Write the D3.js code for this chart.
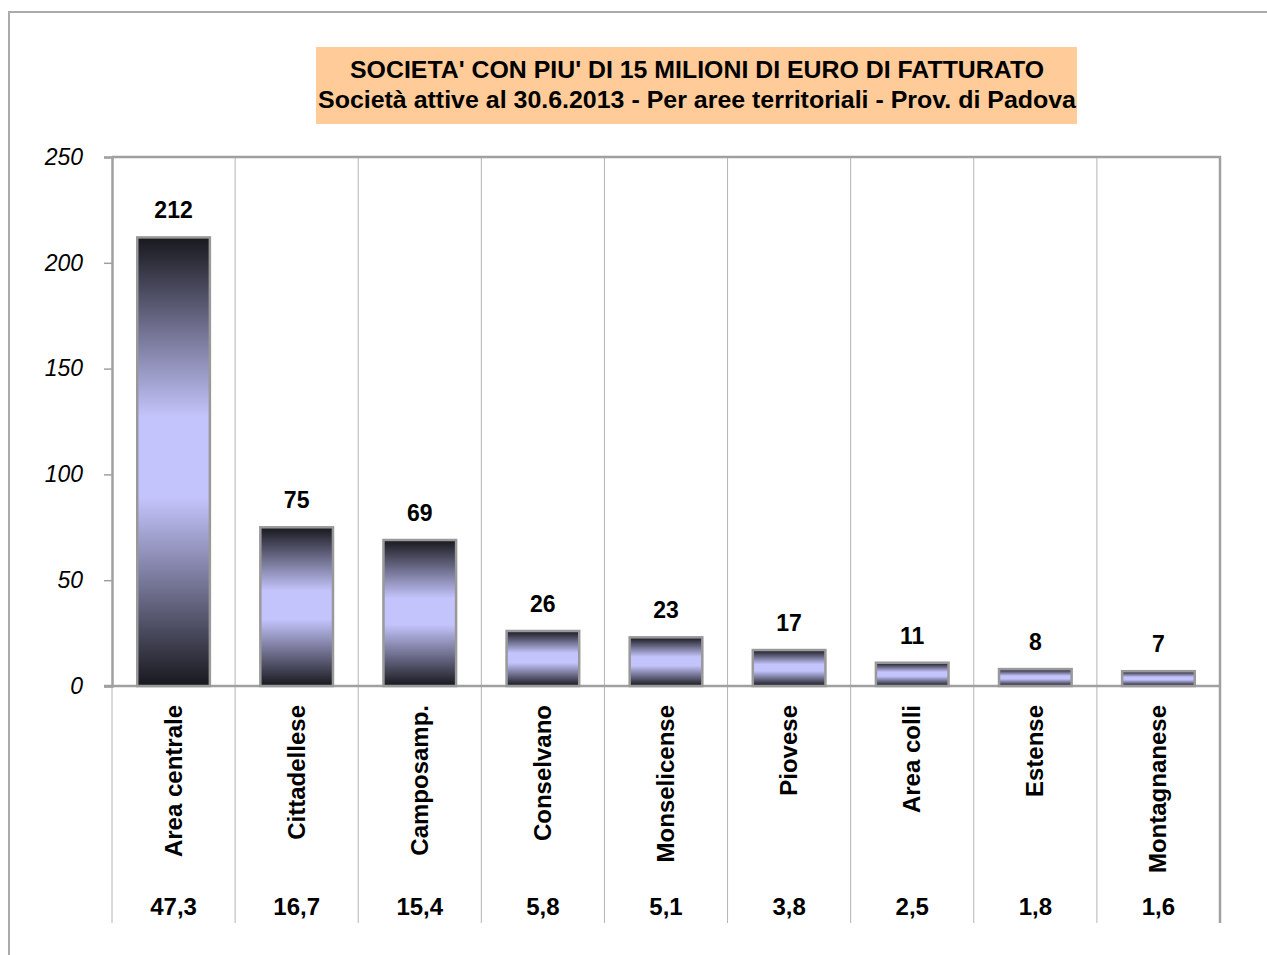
<!DOCTYPE html>
<html>
<head>
<meta charset="utf-8">
<script src="https://cdn.jsdelivr.net/npm/d3@7"></script>
<style>
  body { margin: 0; background: #fff; }
  text { font-family: "Liberation Sans", Arial, sans-serif; }
</style>
</head>
<body>
<div id="chart"></div>
<script>
var areas = ["Area centrale", "Cittadellese", "Camposamp.", "Conselvano", "Monselicense",
    "Piovese", "Area colli", "Estense", "Montagnanese"];
var counts = [212, 75, 69, 26, 23, 17, 11, 8, 7];
var shares = ["47,3", "16,7", "15,4", "5,8", "5,1", "3,8", "2,5", "1,8", "1,6"];
var yTicks = [0, 50, 100, 150, 200, 250];
var titleLines = ["SOCIETA' CON PIU' DI 15 MILIONI DI EURO DI FATTURATO",
    "Società attive al 30.6.2013 -  Per aree territoriali - Prov. di Padova"];

var width = 1267;
var height = 955;
var plotLeft = 112, plotRight = 1220, plotTop = 157, plotBase = 686, tableBottom = 923;

var svg = d3.select('#chart')
    .append('svg')
    .attr('width', width)
    .attr('height', height);

// gradient for bars: dark edges, lavender middle
var grad = svg.append('defs').append('linearGradient')
    .attr('id', 'barGrad')
    .attr('x1', 0).attr('y1', 0)
    .attr('x2', 0).attr('y2', 1);
grad.append('stop').attr('offset', '0%').attr('stop-color', '#18181e');
grad.append('stop').attr('offset', '40%').attr('stop-color', '#c4c4fc');
grad.append('stop').attr('offset', '58%').attr('stop-color', '#c4c4fc');
grad.append('stop').attr('offset', '100%').attr('stop-color', '#18181e');

// outer frame
svg.append('path')
    .attr('d', 'M9,' + height + ' V12 H' + width)
    .attr('fill', 'none')
    .attr('stroke', '#aaaaaa')
    .attr('stroke-width', 2);

// title box
svg.append('rect')
    .attr('x', 316).attr('y', 47)
    .attr('width', 761).attr('height', 77)
    .attr('fill', '#ffcc99');

var titleWidths = [694, 758];
svg.selectAll('.title')
    .data(titleLines)
    .enter()
    .append('text')
    .attr('class', 'title')
    .attr('x', 697)
    .attr('y', function (d, i) { return 78 + i * 30; })
    .attr('text-anchor', 'middle')
    .attr('font-size', '23px')
    .attr('font-weight', 'bold')
    .attr('textLength', function (d, i) { return titleWidths[i]; })
    .attr('lengthAdjust', 'spacingAndGlyphs')
    .attr('fill', '#000')
    .text(function (d) { return d; });

var x = d3.scaleBand()
    .domain(areas)
    .range([plotLeft, plotRight])
    .paddingInner(0)
    .paddingOuter(0);

var y = d3.scaleLinear()
    .domain([0, 250])
    .range([plotBase, plotTop]);

// category dividers (chart + table)
svg.selectAll('.divider')
    .data(areas.slice(1))
    .enter()
    .append('line')
    .attr('class', 'divider')
    .attr('x1', function (d) { return x(d); })
    .attr('x2', function (d) { return x(d); })
    .attr('y1', plotTop)
    .attr('y2', tableBottom)
    .attr('stroke', '#b4b4b4')
    .attr('stroke-width', 1);

// table left line
svg.append('line')
    .attr('x1', plotLeft).attr('x2', plotLeft)
    .attr('y1', plotBase).attr('y2', tableBottom)
    .attr('stroke', '#b4b4b4')
    .attr('stroke-width', 1);

// plot frame: top and right
svg.append('path')
    .attr('d', 'M' + plotLeft + ',' + plotTop + ' H' + plotRight + ' V' + tableBottom)
    .attr('fill', 'none')
    .attr('stroke', '#a0a0a0')
    .attr('stroke-width', 2.5);

// y axis
var yAxis = svg.append('g')
    .attr('transform', 'translate(' + plotLeft + ',0)')
    .call(d3.axisLeft(y).tickValues(yTicks).tickSize(8).tickPadding(21));
yAxis.select('.domain').attr('stroke', '#a0a0a0').attr('stroke-width', 2.5);
yAxis.selectAll('.tick line').attr('stroke', '#a0a0a0').attr('stroke-width', 1.5);
yAxis.selectAll('.tick text')
    .attr('font-size', '23px')
    .attr('font-style', 'italic')
    .attr('font-family', '"Liberation Sans", Arial, sans-serif')
    .attr('fill', '#000');

// baseline
svg.append('line')
    .attr('x1', plotLeft - 8).attr('x2', plotRight)
    .attr('y1', plotBase).attr('y2', plotBase)
    .attr('stroke', '#a0a0a0')
    .attr('stroke-width', 2.5);

var barW = x.bandwidth() * 0.59;

svg.selectAll('.bar')
    .data(counts)
    .enter()
    .append('rect')
    .attr('class', 'bar')
    .attr('x', function (d, i) { return x(areas[i]) + (x.bandwidth() - barW) / 2; })
    .attr('y', function (d) { return y(d); })
    .attr('width', barW)
    .attr('height', function (d) { return plotBase - y(d); })
    .attr('fill', 'url(#barGrad)')
    .attr('stroke', '#999999')
    .attr('stroke-width', 2.5);

svg.selectAll('.val')
    .data(counts)
    .enter()
    .append('text')
    .attr('class', 'val')
    .attr('x', function (d, i) { return x(areas[i]) + x.bandwidth() / 2; })
    .attr('y', function (d) { return y(d) - 19; })
    .attr('text-anchor', 'middle')
    .attr('font-size', '23px')
    .attr('font-weight', 'bold')
    .text(function (d) { return d; });

svg.selectAll('.cat')
    .data(areas)
    .enter()
    .append('text')
    .attr('class', 'cat')
    .attr('transform', function (d) {
        return 'translate(' + (x(d) + x.bandwidth() / 2 + 8) + ',705) rotate(-90)';
    })
    .attr('text-anchor', 'end')
    .attr('font-size', '24px')
    .attr('font-weight', 'bold')
    .text(function (d) { return d; });

svg.selectAll('.share')
    .data(shares)
    .enter()
    .append('text')
    .attr('class', 'share')
    .attr('x', function (d, i) { return x(areas[i]) + x.bandwidth() / 2; })
    .attr('y', 915)
    .attr('text-anchor', 'middle')
    .attr('font-size', '24px')
    .attr('font-weight', 'bold')
    .text(function (d) { return d; });
</script>
</body>
</html>
